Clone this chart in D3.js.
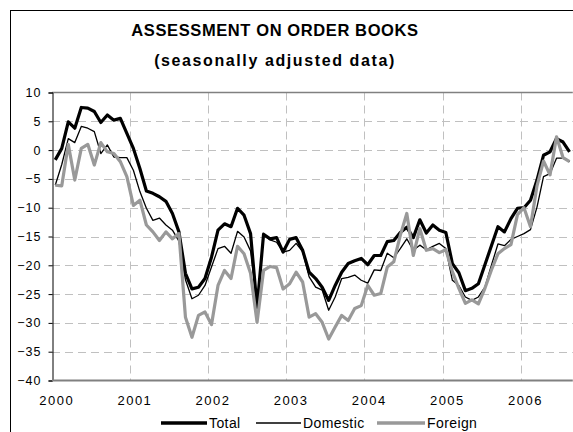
<!DOCTYPE html>
<html>
<head>
<meta charset="utf-8">
<script src="https://cdn.jsdelivr.net/npm/d3@7"></script>
<style>
html,body{margin:0;padding:0;background:#fff;}
svg{display:block;font-family:Arial,"Liberation Sans",sans-serif;}
</style>
</head>
<body>
<svg id="chart" width="573" height="432"></svg>
<script>
const years = ["2000","2001","2002","2003","2004","2005","2006"];
const yTicks = [10,5,0,-5,-10,-15,-20,-25,-30,-35,-40];
const seriesNames = ["Total","Domestic","Foreign"];

// Monthly values, Jan 2000 - Aug 2006
const total = [
 -1.7, 0.3, 4.9, 3.8, 7.4, 7.3, 6.7, 4.8, 6.1, 5.2, 5.5, 2.9,
  0.3,-3.2,-7.1,-7.5,-8.1,-8.9,-11.0,-14.2,-21.4,-24.1,-23.8,-22.3,
 -18.6,-13.9,-12.8,-13.3,-10.1,-11.3,-14.5,-27.3,-14.6,-15.4,-15.2,-17.7,
 -15.5,-15.2,-17.4,-21.2,-22.3,-23.8,-26.1,-23.5,-21.2,-19.7,-19.2,-18.8,
 -19.9,-18.3,-18.3,-15.9,-15.7,-14.3,-13.4,-15.2,-12.1,-14.4,-13.0,-13.9,
 -14.3,-19.7,-21.3,-24.4,-24.0,-23.2,-19.9,-16.6,-13.3,-14.2,-11.9,-10.1,
 -10.0,-8.7,-5.2,-0.9,-0.3, 2.0, 1.4,-0.3
];
const domestic = [
 -6.1,-2.5, 2.0, 1.3, 4.1, 3.8, 3.2,-0.6, 0.9,-1.2,-1.3,-1.3,
 -3.5,-7.2,-10.1,-12.2,-11.8,-13.0,-13.9,-15.8,-22.5,-25.8,-25.2,-23.5,
 -20.3,-17.1,-16.7,-17.9,-14.1,-15.1,-17.5,-27.0,-14.8,-15.6,-16.0,-17.7,
 -17.4,-16.2,-17.6,-22.0,-23.8,-24.3,-27.8,-25.5,-22.3,-22.1,-21.7,-22.6,
 -23.1,-20.8,-20.9,-17.9,-18.7,-17.1,-15.4,-17.4,-16.5,-17.3,-16.7,-16.2,
 -17.1,-22.6,-23.5,-25.5,-26.1,-25.5,-23.8,-20.0,-16.3,-16.6,-15.5,-15.0,
 -14.5,-13.8,-9.9,-4.6,-4.1,-1.4,-1.4,-2.0
];
const foreign = [
 -6.1,-6.2, 1.0,-5.2, 0.3, 1.0,-2.6, 1.3,-0.3,-0.6,-2.0,-4.6,
 -9.6,-8.7,-13.0,-14.2,-15.7,-14.2,-15.4,-14.5,-29.0,-32.5,-28.7,-28.1,
 -30.3,-23.5,-20.9,-22.3,-16.7,-18.0,-21.4,-29.9,-20.9,-20.2,-20.4,-24.1,
 -23.2,-21.2,-22.9,-29.0,-28.4,-29.9,-32.8,-30.7,-28.7,-29.6,-27.5,-27.0,
 -23.5,-25.2,-24.9,-20.3,-19.4,-14.8,-11.0,-18.3,-13.6,-17.4,-17.1,-17.8,
 -17.3,-21.1,-24.0,-26.6,-26.0,-26.7,-24.0,-20.8,-18.0,-17.1,-16.4,-11.2,
 -10.0,-13.3,-6.2,-1.9,-4.3, 2.3,-1.3,-2.0
];

const svg = d3.select("#chart");
const W = 573, H = 432;
const plotLeft = 52, plotTop = 92.5, plotBottom = 380.5;
const n = total.length;
const step = 6.51;

const x = d3.scaleBand().domain(d3.range(n)).range([plotLeft, plotLeft + n*step]).padding(0);
const xc = i => x(i) + x.bandwidth()/2;
const y = d3.scaleLinear().domain([-40, 10]).range([plotBottom, plotTop]);

// outer frame
svg.append("rect").attr("x",10.5).attr("y",10.5).attr("width",W+20).attr("height",H+20)
  .attr("fill","none").attr("stroke","#000").attr("stroke-width",1);

// title
const title = svg.append("g").attr("font-weight","bold").attr("text-anchor","middle").attr("fill","#000");
title.append("text").attr("x",275).attr("y",36).attr("font-size",16.5).attr("letter-spacing",0.6)
  .text("ASSESSMENT ON ORDER BOOKS");
title.append("text").attr("x",275).attr("y",65.5).attr("font-size",16).attr("letter-spacing",1.6)
  .text("(seasonally adjusted data)");

const plotRight = Math.min(x(n-1) + x.bandwidth(), W + 5);

// horizontal gridlines
svg.append("g").selectAll("line").data(yTicks.filter(v => v > -40 && v < 10)).join("line")
  .attr("x1", plotLeft).attr("x2", plotRight)
  .attr("y1", d => Math.round(y(d)) + 0.5).attr("y2", d => Math.round(y(d)) + 0.5)
  .attr("stroke","#c0c0c0").attr("stroke-width",1).attr("stroke-dasharray","8,5");

// vertical gridlines at year boundaries
const yearIdx = years.map((d,k) => k*12);
svg.append("g").selectAll("line").data(yearIdx.filter(i => i > 0)).join("line")
  .attr("x1", i => Math.round(x(i)) + 0.5).attr("x2", i => Math.round(x(i)) + 0.5)
  .attr("y1", plotTop).attr("y2", plotBottom)
  .attr("stroke","#c0c0c0").attr("stroke-width",1).attr("stroke-dasharray","8,5");

// top border
svg.append("line").attr("x1",plotLeft).attr("x2",plotRight).attr("y1",plotTop).attr("y2",plotTop)
  .attr("stroke","#808080").attr("stroke-width",1.5);

// y axis
const yAxis = d3.axisLeft(y).tickValues(yTicks).tickSize(4).tickPadding(7).tickFormat(d3.format("d"));
const gy = svg.append("g").attr("transform",`translate(${plotLeft + 0.5},0)`).call(yAxis);
gy.select(".domain").attr("stroke","#000").attr("stroke-width",1);
gy.selectAll(".tick line").attr("stroke","#000");
gy.selectAll(".tick text").attr("font-size",12.5).attr("letter-spacing",1).attr("fill","#000")
  .attr("font-family","Arial, 'Liberation Sans', sans-serif");

// x axis line
svg.append("line").attr("x1",plotLeft).attr("x2",plotRight).attr("y1",plotBottom).attr("y2",plotBottom)
  .attr("stroke","#808080").attr("stroke-width",2);

// x labels (category labels at January of each year)
const xAxis = d3.axisBottom(d3.scalePoint().domain(years).range([xc(0), xc(72)]))
  .tickSize(0).tickPadding(15);
const gx = svg.append("g").attr("transform",`translate(0,${plotBottom})`).call(xAxis);
gx.select(".domain").remove();
gx.selectAll(".tick text").attr("font-size",13).attr("letter-spacing",1.5).attr("fill","#000")
  .attr("font-family","Arial, 'Liberation Sans', sans-serif").attr("dx",1);

// series
const line = d3.line().x((d,i) => xc(i)).y(d => y(d));
const styles = [
  {data: total, color:"#000", w:3.2},
  {data: domestic, color:"#000", w:1.3},
  {data: foreign, color:"#999999", w:3.2}
];
styles.forEach(s => {
  svg.append("path").datum(s.data).attr("d", line).attr("fill","none")
    .attr("stroke", s.color).attr("stroke-width", s.w).attr("stroke-linejoin","round");
});

// legend
const legendItems = [
  {name: seriesNames[0], color:"#000", w:3.5, x1:161, x2:207},
  {name: seriesNames[1], color:"#000", w:1.3, x1:256, x2:301},
  {name: seriesNames[2], color:"#999999", w:3.5, x1:377, x2:425}
];
const lg = svg.append("g");
legendItems.forEach(it => {
  lg.append("line").attr("x1",it.x1).attr("x2",it.x2).attr("y1",423).attr("y2",423)
    .attr("stroke",it.color).attr("stroke-width",it.w);
  lg.append("text").attr("x",it.x2+2).attr("y",428).attr("font-size",14).attr("letter-spacing",0.4)
    .attr("fill","#000").text(it.name);
});
</script>
</body>
</html>
